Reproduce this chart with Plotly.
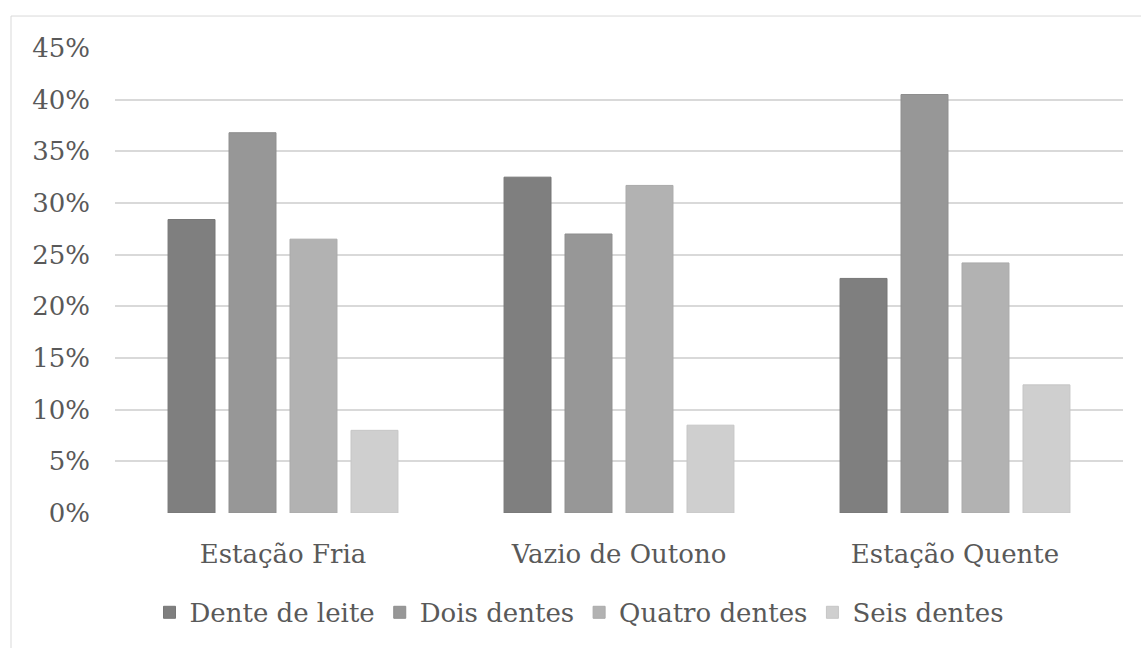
import plotly.graph_objects as go

categories = ["Estação Fria", "Vazio de Outono", "Estação Quente"]
series_names = ["Dente de leite", "Dois dentes", "Quatro dentes", "Seis dentes"]
dente_de_leite = [28.4, 32.5, 22.7]
dois_dentes = [36.8, 27.0, 40.5]
quatro_dentes = [26.5, 31.7, 24.2]
seis_dentes = [8.0, 8.5, 12.4]
series_values = [dente_de_leite, dois_dentes, quatro_dentes, seis_dentes]
fill_colors = ["#7f7f7f", "#979797", "#b2b2b2", "#cfcfcf"]
edge_colors = ["#777777", "#8e8e8e", "#aaaaaa", "#c6c6c6"]

FONT = "DejaVu Serif"
FS = 26
TXT = "#595959"

fig = go.Figure()
for name, vals, fc, ec in zip(series_names, series_values, fill_colors, edge_colors):
    fig.add_trace(go.Bar(
        x=categories, y=vals, name=name,
        marker=dict(color=fc, line=dict(color=ec, width=1)),
    ))

W, H = 1141, 648
L, R, T, B = 115, 18, 48, 134.5
pw = W - L - R
ph = H - T - B

fig.update_layout(
    width=W, height=H,
    margin=dict(l=L, r=R, t=T, b=B, pad=0),
    paper_bgcolor="white", plot_bgcolor="white",
    barmode="group", bargap=0.274, bargroupgap=0.23,
    font=dict(family=FONT, size=FS, color=TXT),
    showlegend=True,
    legend=dict(
        orientation="h", x=(579 - L) / pw, xanchor="center",
        y=(H - B - 613) / ph, yanchor="middle",
        font=dict(family=FONT, size=FS, color=TXT),
        itemwidth=30, traceorder="normal",
        bgcolor="rgba(0,0,0,0)",
    ),
    xaxis=dict(
        showgrid=False, showline=False, zeroline=False,
        ticks="", ticklabelstandoff=23,
        tickfont=dict(family=FONT, size=FS, color=TXT),
    ),
    yaxis=dict(
        range=[0, 45], dtick=5, ticksuffix="%",
        showgrid=True, gridcolor="#d9d9d9", gridwidth=1.5,
        zeroline=False, showline=False, ticks="",
        ticklabelstandoff=24,
        tickfont=dict(family=FONT, size=FS, color=TXT),
    ),
    shapes=[dict(
        type="rect", xref="paper", yref="paper",
        x0=(11 - L) / pw, x1=(W + 10 - L) / pw,
        y0=(H - B - (H + 10)) / ph, y1=(H - B - 16) / ph,
        line=dict(color="#d9d9d9", width=1), fillcolor="rgba(0,0,0,0)",
        layer="below",
    )],
)

fig.write_html("out.html")
